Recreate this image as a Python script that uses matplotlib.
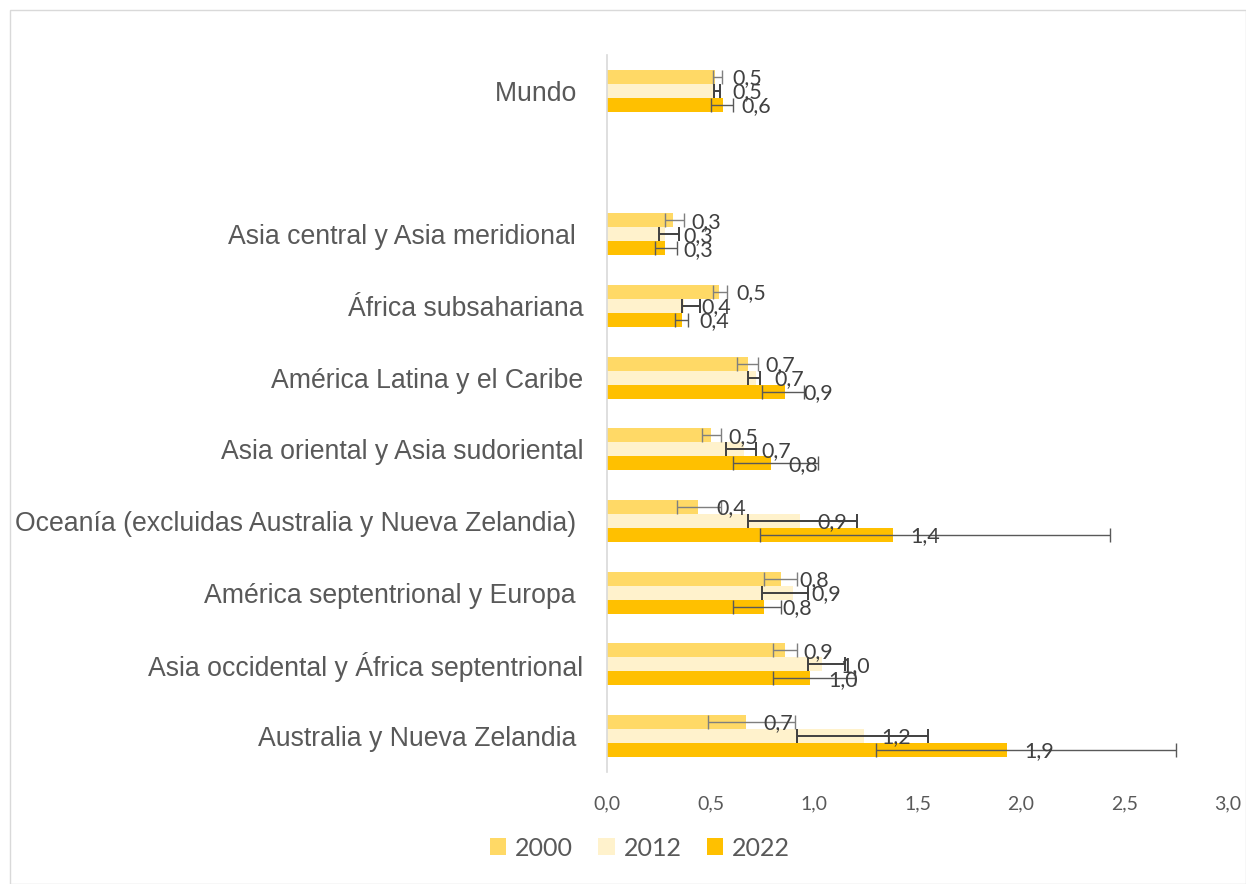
import matplotlib
matplotlib.use("Agg")
import matplotlib.pyplot as plt
import numpy as np
from matplotlib.patches import Rectangle

# --------------------------------------------------------------------------- #
# data (top to bottom, "" = empty row)
# --------------------------------------------------------------------------- #
categories = [
    "Mundo ",
    "",
    "Asia central y Asia meridional ",
    "África subsahariana",
    "América Latina y el Caribe",
    "Asia oriental y Asia sudoriental",
    "Oceanía (excluidas Australia y Nueva Zelandia) ",
    "América septentrional y Europa ",
    "Asia occidental y África septentrional",
    "Australia y Nueva Zelandia ",
]
years = ["2000", "2012", "2022"]

val_2000 = [0.52, np.nan, 0.32, 0.54, 0.68, 0.50, 0.44, 0.84, 0.86, 0.67]
low_2000 = [0.51, np.nan, 0.28, 0.51, 0.63, 0.46, 0.34, 0.76, 0.80, 0.49]
high_2000 = [0.555, np.nan, 0.37, 0.58, 0.73, 0.55, 0.55, 0.92, 0.92, 0.91]

val_2012 = [0.52, np.nan, 0.28, 0.37, 0.72, 0.66, 0.93, 0.90, 1.04, 1.24]
low_2012 = [0.515, np.nan, 0.25, 0.36, 0.68, 0.575, 0.68, 0.75, 0.97, 0.92]
high_2012 = [0.545, np.nan, 0.35, 0.45, 0.74, 0.72, 1.21, 0.97, 1.15, 1.55]

val_2022 = [0.56, np.nan, 0.28, 0.36, 0.86, 0.79, 1.38, 0.76, 0.98, 1.93]
low_2022 = [0.50, np.nan, 0.23, 0.33, 0.75, 0.61, 0.74, 0.61, 0.80, 1.30]
high_2022 = [0.61, np.nan, 0.34, 0.39, 0.95, 1.02, 2.43, 0.84, 1.20, 2.75]

xticks = [0.0, 0.5, 1.0, 1.5, 2.0, 2.5, 3.0]

# --------------------------------------------------------------------------- #
# style
# --------------------------------------------------------------------------- #
colors = ["#FFD966", "#FFF2CC", "#FFC000"]
err_colors = ["#7F7F7F", "#404040", "#595959"]
err_lw = [1.0, 1.4, 1.0]
bar_h = 0.195
offsets = [-bar_h, 0.0, bar_h]

fig = plt.figure(figsize=(12.46, 8.84), dpi=100)
fig.patches.append(Rectangle((10 / 1246, 0.0), 1 - 10 / 1246, 1 - 10 / 884,
                             transform=fig.transFigure, fill=False,
                             edgecolor="#D9D9D9", lw=1.0))
ax = fig.add_axes([607 / 1246, 1 - 772 / 884, (1228 - 607) / 1246, (772 - 55) / 884])

y = np.arange(len(categories))
series = [
    (val_2000, low_2000, high_2000),
    (val_2012, low_2012, high_2012),
    (val_2022, low_2022, high_2022),
]

for i, (vals, lows, highs) in enumerate(series):
    v = np.array(vals, dtype=float)
    lo = np.array(lows, dtype=float)
    hi = np.array(highs, dtype=float)
    mask = ~np.isnan(v)
    ypos = y[mask] + offsets[i]
    ax.barh(ypos, v[mask], height=bar_h, color=colors[i], edgecolor="none",
            label=years[i], zorder=2)
    ax.errorbar(v[mask], ypos, xerr=[v[mask] - lo[mask], hi[mask] - v[mask]],
                fmt="none", ecolor=err_colors[i], elinewidth=err_lw[i],
                capsize=5, capthick=err_lw[i], zorder=3)
    for xv, yv in zip(v[mask], ypos):
        ax.annotate(f"{xv:.1f}".replace(".", ","), (xv, yv),
                    xytext=(13, -1), textcoords="offset points",
                    ha="left", va="center", fontsize=15.5, color="#404040",
                    family="Lato", zorder=4)

ax.set_ylim(len(categories) - 0.5, -0.5)
ax.set_yticks(y)
ax.set_yticklabels(categories, fontsize=19.2, color="#595959",
                   family="Liberation Sans")
ax.tick_params(axis="y", length=0, pad=17)

ax.set_xlim(0, 3.0)
ax.set_xticks(xticks)
ax.set_xticklabels([f"{t:.1f}".replace(".", ",") for t in xticks],
                   fontsize=14, color="#595959", family="Lato")
ax.tick_params(axis="x", length=0, pad=17)

for s in ["top", "right", "bottom"]:
    ax.spines[s].set_visible(False)
ax.spines["left"].set_color("#D9D9D9")
ax.spines["left"].set_linewidth(1.2)

leg = fig.legend(loc="center", bbox_to_anchor=(640 / 1246, 1 - 848 / 884),
                 ncol=3, frameon=False, handlelength=0.65, handleheight=0.65,
                 handletextpad=0.36, columnspacing=1.0,
                 prop={"family": "Lato", "size": 18})
for t in leg.get_texts():
    t.set_color("#595959")

fig.savefig("out.png", dpi=100)
